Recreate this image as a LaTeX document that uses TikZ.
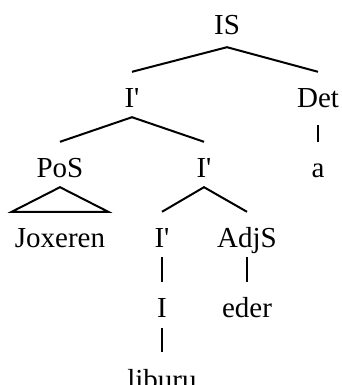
\documentclass[tikz,border=0pt]{standalone}
\usepackage{fontspec}
\setmainfont{Liberation Serif}[Ligatures=TeXOff]
\begin{document}
\begin{tikzpicture}[x=1pt,y=1pt,
  cat/.style={anchor=base,inner sep=0pt,text height=18pt,text depth=0pt,font=\fontsize{29}{31}\selectfont},
  branch/.style={line width=2pt,line join=miter}]
\useasboundingbox (0,0) rectangle (342,-385);
% node labels, placed on their baselines
\node[cat] (IS)   at (227,-35)  {IS};
\node[cat] (I1)   at (132,-107) {I'};
\node[cat] (Det)  at (318,-107) {Det};
\node[cat] (PoS)  at (60,-177)  {PoS};
\node[cat] (I2)   at (204,-177) {I'};
\node[cat] (a)    at (318,-177) {a};
\node[cat] (Jox)  at (60,-247)  {Joxeren};
\node[cat] (I3)   at (162,-247) {I'};
\node[cat] (AdjS) at (247,-247) {AdjS};
\node[cat] (I4)   at (162,-317) {I};
\node[cat] (eder) at (247,-317) {eder};
\node[cat] (lib)  at (162,-389) {liburu};
% branches
\draw[branch] ([yshift=17pt]I1.north) -- ([yshift=-12pt]IS.south) -- ([yshift=17pt]Det.north);
\draw[branch] ([yshift=17pt]PoS.north) -- ([yshift=-10pt]I1.south) -- ([yshift=17pt]I2.north);
\draw[branch] ([yshift=-18pt]Det.south) -- ([yshift=17pt]a.north);
\draw[branch] ([xshift=-3pt,yshift=17pt]Jox.north west) -- ([yshift=-10pt]PoS.south) -- ([xshift=3pt,yshift=17pt]Jox.north east) -- cycle;
\draw[branch] ([yshift=17pt]I3.north) -- ([yshift=-10pt]I2.south) -- ([yshift=17pt]AdjS.north);
\draw[branch] ([yshift=-10pt]I3.south) -- ([yshift=17pt]I4.north);
\draw[branch] ([yshift=-10pt]AdjS.south) -- ([yshift=17pt]eder.north);
\draw[branch] ([yshift=-11pt]I4.south) -- ([yshift=19pt]lib.north);
\end{tikzpicture}
\end{document}
